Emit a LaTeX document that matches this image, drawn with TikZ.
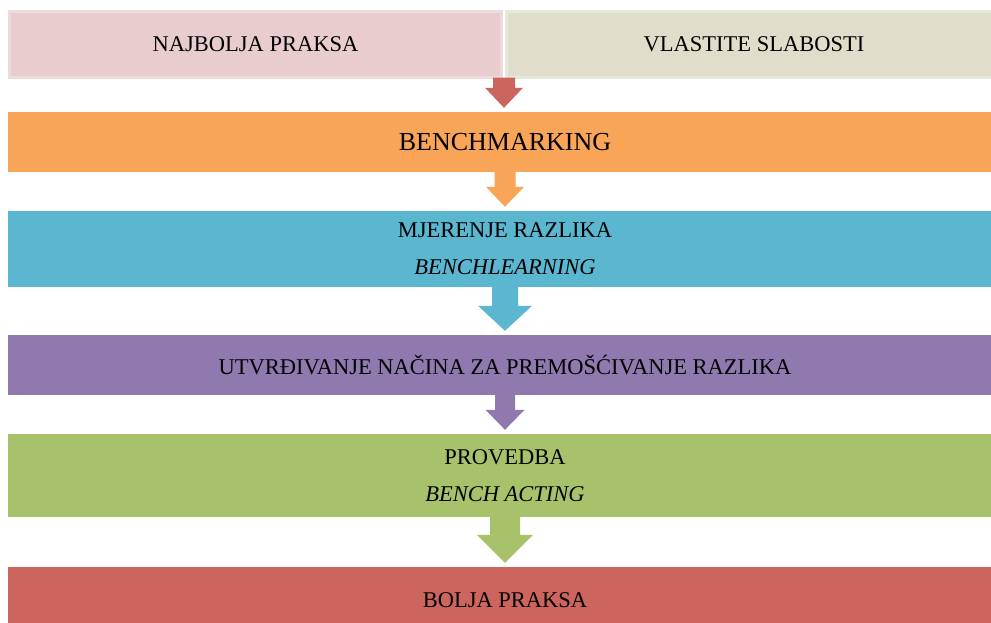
\documentclass[tikz,border=0pt]{standalone}
\usepackage{fontspec}
\setmainfont{Liberation Serif}
\usetikzlibrary{calc}
\definecolor{PinkClr}{RGB}{232,204,206}
\definecolor{PinkLine}{RGB}{237,218,219}
\definecolor{BeigeClr}{RGB}{224,222,202}
\definecolor{BeigeLine}{RGB}{228,234,218}
\definecolor{OrangeClr}{RGB}{248,165,88}
\definecolor{BlueClr}{RGB}{91,182,208}
\definecolor{PurpleClr}{RGB}{143,121,174}
\definecolor{GreenClr}{RGB}{168,194,108}
\definecolor{RedClr}{RGB}{204,101,94}

% #1 start, #2 target node, #3 half shaft, #4 half head, #5 head length, #6 colour
\newcommand\BlockArrow[6]{%
  \fill[#6] ($(#1)+(-#3,0)$) -- ($(#1)+(#3,0)$)
    -- ($(#1 |- #2.north)+(#3,-4-#5)$) -- ($(#1 |- #2.north)+(#4,-4-#5)$)
    -- ($(#1 |- #2.north)+(0,-4)$)
    -- ($(#1 |- #2.north)+(-#4,-4-#5)$) -- ($(#1 |- #2.north)+(-#3,-4-#5)$) -- cycle;}

\begin{document}
\begin{tikzpicture}[x=1pt,y=-1pt,
  band/.style={rectangle,inner sep=0pt,minimum width=994pt,align=center,
    font=\fontsize{22.5}{37}\selectfont},
  topbox/.style={band,line width=3pt,minimum height=66pt}]
\useasboundingbox[fill=white] (0,0) rectangle (991,622);

\node[topbox,fill=PinkClr,draw=PinkLine,minimum width=492pt] (najbolja) at (255.5,44.5) {NAJBOLJA PRAKSA};
\node[topbox,fill=BeigeClr,draw=BeigeLine,minimum width=495pt] (vlastite) at (754,44.5) {VLASTITE SLABOSTI};

\node[band,fill=OrangeClr,minimum height=60pt,font=\fontsize{26}{30}\selectfont] (bench) at (505,142) {BENCHMARKING};
\node[band,fill=BlueClr,minimum height=76pt] (mjerenje) at (505,249) {MJERENJE RAZLIKA\\\itshape BENCHLEARNING};
\node[band,fill=PurpleClr,minimum height=60pt] (nacin) at (505,365) {UTVRĐIVANJE NAČINA ZA PREMOŠĆIVANJE RAZLIKA};
\node[band,fill=GreenClr,minimum height=83pt] (provedba) at (505,475.5) {PROVEDBA\\\itshape BENCH ACTING};
\node[band,fill=RedClr,minimum height=66pt] (bolja) at (505,600) {BOLJA PRAKSA};

\coordinate (spoj) at ($(najbolja.south east)!.5!(vlastite.south west)+(0,-1.5)$);

\BlockArrow{spoj}{bench}{11}{19}{20}{RedClr}
\BlockArrow{bench.south}{mjerenje}{10.5}{19}{20}{OrangeClr}
\BlockArrow{mjerenje.south}{nacin}{13}{27}{25}{BlueClr}
\BlockArrow{nacin.south}{provedba}{10}{19.5}{20}{PurpleClr}
\BlockArrow{provedba.south}{bolja}{15}{28}{28}{GreenClr}

\end{tikzpicture}
\end{document}
